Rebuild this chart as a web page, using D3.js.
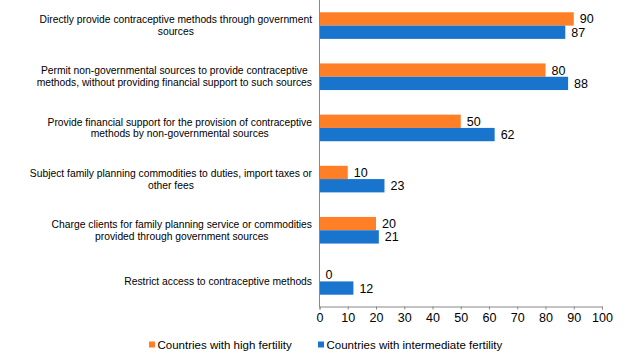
<!DOCTYPE html>
<html><head><meta charset="utf-8">
<script src="https://cdn.jsdelivr.net/npm/d3@7"></script>
<style>body{margin:0;background:#fff;}svg{display:block;font-family:Arial,"Liberation Sans",sans-serif;}</style>
</head><body>
<script>
const categories = [
  ["Directly provide contraceptive methods through government", "sources"],
  ["Permit non-governmental sources to provide contraceptive", "methods, without providing financial support to such sources"],
  ["Provide financial support for the provision of contraceptive", "methods by non-governmental sources"],
  ["Subject family planning commodities to duties, import taxes or", "other fees"],
  ["Charge clients for family planning service or commodities", "provided through government sources"],
  ["Restrict access to contraceptive methods"]
];
const seriesNames = ["Countries with high fertility", "Countries with intermediate fertility"];
const highFertility = [90, 80, 50, 10, 20, 0];
const intermediateFertility = [87, 88, 62, 23, 21, 12];
const xTicks = [0,10,20,30,40,50,60,70,80,90,100];
const colors = ["#FF7F27", "#1874CD"];

const W = 627, H = 355;
const svg = d3.select("body").append("svg").attr("width", W).attr("height", H);
const x0 = 319.5, x1 = 602, yTop = 0, yBot = 307;
const x = d3.scaleLinear().domain([0, 100]).range([x0, x1]);
const y = d3.scaleBand().domain(d3.range(categories.length)).range([yTop, yBot]).paddingInner(0.48).paddingOuter(0.24);
const sub = d3.scaleBand().domain([0, 1]).range([0, y.bandwidth()]);
const series = [highFertility, intermediateFertility];

// bars
series.forEach((vals, s) => {
  const g = svg.append("g");
  g.selectAll("rect").data(vals).join("rect")
    .attr("x", x(0))
    .attr("y", (d, i) => y(i) + sub(s))
    .attr("width", d => x(d) - x(0))
    .attr("height", sub.bandwidth())
    .attr("fill", colors[s]);
  g.selectAll("text").data(vals).join("text")
    .attr("x", d => x(d) + 6)
    .attr("y", (d, i) => y(i) + sub(s) + sub.bandwidth() / 2)
    .attr("dy", "0.36em")
    .attr("font-size", 12.5)
    .attr("fill", "#000")
    .text(d => d);
});

// x axis
const ax = svg.append("g").attr("transform", `translate(0,${yBot - 0.5})`)
  .call(d3.axisBottom(x).tickValues(xTicks).tickSize(3).tickPadding(4).tickFormat(d3.format("d")));
ax.select(".domain").attr("stroke", "#888");
ax.selectAll(".tick line").attr("stroke", "#888");
ax.selectAll("text").attr("font-size", 12.5).attr("fill", "#000").attr("font-family", "Arial, 'Liberation Sans', sans-serif");

// y axis line
svg.append("line").attr("x1", x0).attr("x2", x0).attr("y1", yTop).attr("y2", yBot)
  .attr("stroke", "#888");

// category labels
const lab = svg.append("g");
const catFont = 10.3;
categories.forEach((lines, i) => {
  const cy = y(i) + y.bandwidth() / 2;
  const lh = 11.8;
  const t = lab.append("text").attr("font-size", catFont).attr("fill", "#000").attr("text-anchor", "middle");
  const n = lines.length;
  const tmp = svg.append("text").attr("font-size", catFont);
  let maxW = 0;
  lines.forEach(l => { tmp.text(l); maxW = Math.max(maxW, tmp.node().getComputedTextLength()); });
  tmp.remove();
  const cx = 312 - maxW / 2;
  lines.forEach((l, k) => {
    t.append("tspan").attr("x", cx).attr("y", cy + (k - (n - 1) / 2) * lh).attr("dy", "0.35em").text(l);
  });
});

// legend
const legX = [149, 318];
seriesNames.forEach((name, s) => {
  const g = svg.append("g").attr("transform", `translate(${legX[s]},341.5)`);
  g.append("rect").attr("width", 6).attr("height", 6).attr("fill", colors[s]);
  g.append("text").attr("x", 8.5).attr("y", 3).attr("dy", "0.36em").attr("font-size", 11.5).attr("fill", "#000").text(name);
});
</script>
</body></html>
